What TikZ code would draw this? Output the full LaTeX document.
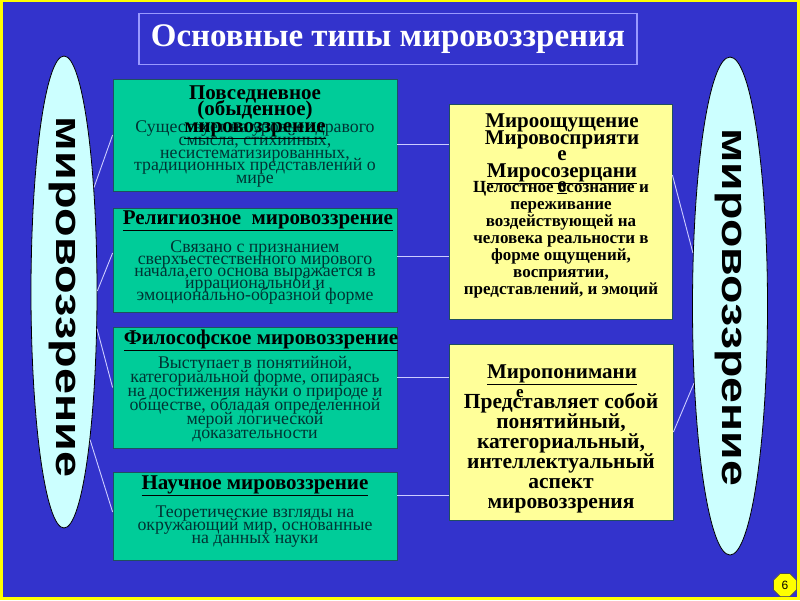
\documentclass[tikz,border=0pt]{standalone}
\usepackage{fontspec}
\setmainfont{Liberation Serif}
\newfontfamily\sansf{Liberation Sans}
\usetikzlibrary{shapes.geometric}
\newcommand{\myfsz}[2]{\fontsize{#1}{#2}\selectfont\lineskiplimit=-100pt\relax}
\definecolor{bg}{HTML}{3333CC}
\definecolor{frameyel}{HTML}{FFFF00}
\definecolor{gbox}{HTML}{00CC99}
\definecolor{ybox}{HTML}{FFFF99}
\definecolor{ellc}{HTML}{CCFFFF}
\definecolor{conn}{HTML}{CCCCFF}
\definecolor{tframe}{HTML}{9999FF}
\definecolor{bodytxt}{HTML}{003333}
\definecolor{gborder}{HTML}{1F4F5F}
\tikzset{
  gboxst/.style={draw=gborder, line width=0.8pt, fill=gbox, minimum width=284, inner sep=0},
  yboxst/.style={draw=gborder, line width=0.8pt, fill=ybox, inner sep=0},
  ellst/.style={ellipse, draw=black, line width=0.8pt, fill=ellc, inner sep=0},
  ttlst/.style={font=\bfseries\myfsz{21}{16.5}, align=center, inner sep=0, text=black},
  bodyst/.style={text=bodytxt, align=center, inner sep=0},
  ybodyst/.style={text=black, align=center, inner sep=0, font=\bfseries\myfsz{17}{17}},
  connst/.style={draw=conn, line width=0.9pt},
  ellword/.style={font=\sansf\bfseries\myfsz{36}{36}, inner sep=0, rotate=-90}
}
\begin{document}
\begin{tikzpicture}[x=1pt,y=-1pt]
\fill[frameyel] (0,0) rectangle (800,600);
\fill[bg] (3,2) rectangle (797,597);
\useasboundingbox (0,0) rectangle (800,600);

% title
\node[draw=tframe, line width=1.2pt, minimum width=498, minimum height=51, inner sep=0,
      text=white, font=\bfseries\myfsz{33}{33}] (title) at (388,39) {Основные типы мировоззрения};

% ellipses
\node[ellst, minimum width=66, minimum height=472] (eL) at (64,292) {};
\node[ellst, minimum width=75, minimum height=498] (eR) at (730,306) {};
\node[ellword] (wL) at (62,297) {\scalebox{1.3}[1]{мировоззрение}};
\node[ellword] (wR) at (728,307) {\scalebox{1.29}[1]{мировоззрение}};

% green boxes
\node[gboxst, minimum height=112] (g1) at (255,135) {};
\node[gboxst, minimum height=104] (g2) at (255,260) {};
\node[gboxst, minimum height=121] (g3) at (255,387.5) {};
\node[gboxst, minimum height=88] (g4) at (255,516) {};

% yellow boxes
\node[yboxst, minimum width=223, minimum height=215] (y5) at (560.5,211.5) {};
\node[yboxst, minimum width=224, minimum height=176] (y6) at (561,432) {};

% connectors
\coordinate (h1) at (0,144);
\coordinate (h2) at (0,256);
\coordinate (h3) at (0,377);
\coordinate (h4) at (0,495);
\coordinate (h5) at (0,175);
\draw[connst] (eL.74) -- (g1.west);
\draw[connst] (eL.2) -- ([yshift=7pt]g2.west);
\draw[connst] (eL.-48) -- (g3.west);
\draw[connst] (eL.-80) -- ([yshift=4pt]g4.west);
\draw[connst] (g1.east |- h1) -- (y5.west |- h1);
\draw[connst] (g2.east |- h2) -- (y5.west |- h2);
\draw[connst] (g3.east |- h3) -- (y6.west |- h3);
\draw[connst] (g4.east |- h4) -- (y6.west |- h4);
\draw[connst] (y5.east |- h5) -- (eR.125);
\draw[connst] (y6.east) -- (eR.245);

% box 1 texts
\node[bodyst, font=\myfsz{17.8}{12.6}] (b1) at (255,154) {Существует на уровне здравого\\смысла, стихийных,\\несистематизированных,\\традиционных представлений о\\мире};
\node[ttlst] (t1) at (255,112) {Повседневное\\(обыденное)\\\underline{мировоззрение}};

% box 2 texts
\node[ttlst] (t2) at (258,221) {\underline{Религиозное\ \ мировоззрение}};
\node[bodyst, font=\myfsz{17.8}{12}] (b2) at (255,272) {Связано с признанием\\сверхъестественного мирового\\начала,его основа выражается в\\иррациональной и\\эмоционально-образной форме};

% box 3 texts
\node[ttlst] (t3) at (261,340) {\underline{Философское мировоззрение}};
\node[bodyst, font=\myfsz{17.8}{14}] (b3) at (255,399) {Выступает в понятийной,\\категориальной форме, опираясь\\на достижения науки о природе и\\обществе, обладая определенной\\мерой логической\\доказательности};

% box 4 texts
\node[ttlst] (t4) at (255,486) {\underline{Научное мировоззрение}};
\node[bodyst, font=\myfsz{17.8}{13}] (b4) at (255,527) {Теоретические взгляды на\\окружающий мир, основанные\\на данных науки};

% box 5 texts
\node[ttlst] (t5) at (562,149) {Мироощущение\\Мировосприяти\\е\\\underline{Миросозерцани}};
\node[ybodyst] (b5) at (561,240) {Целостное осознание и\\переживание\\воздействующей на\\человека реальности в\\форме ощущений,\\восприятии,\\представлений, и эмоций};
\node[ttlst] (e5) at (562,188) {\underline{е}};

% box 6 texts
\node[ttlst] (t6) at (562,375) {\underline{Миропонимани}};
\node[ybodyst, font=\bfseries\myfsz{21.5}{20}] (b6) at (561,453) {Представляет собой\\понятийный,\\категориальный,\\интеллектуальный\\аспект\\мировоззрения};
\node[ttlst, font=\bfseries\myfsz{17}{16}] (e6) at (520,394) {е};

% page badge
\node[regular polygon, regular polygon sides=8, draw=black!70, line width=0.6pt, fill=frameyel,
      minimum size=25, inner sep=0, font=\sansf\myfsz{12}{12}] (pg) at (785,585) {6};
\end{tikzpicture}
\end{document}
